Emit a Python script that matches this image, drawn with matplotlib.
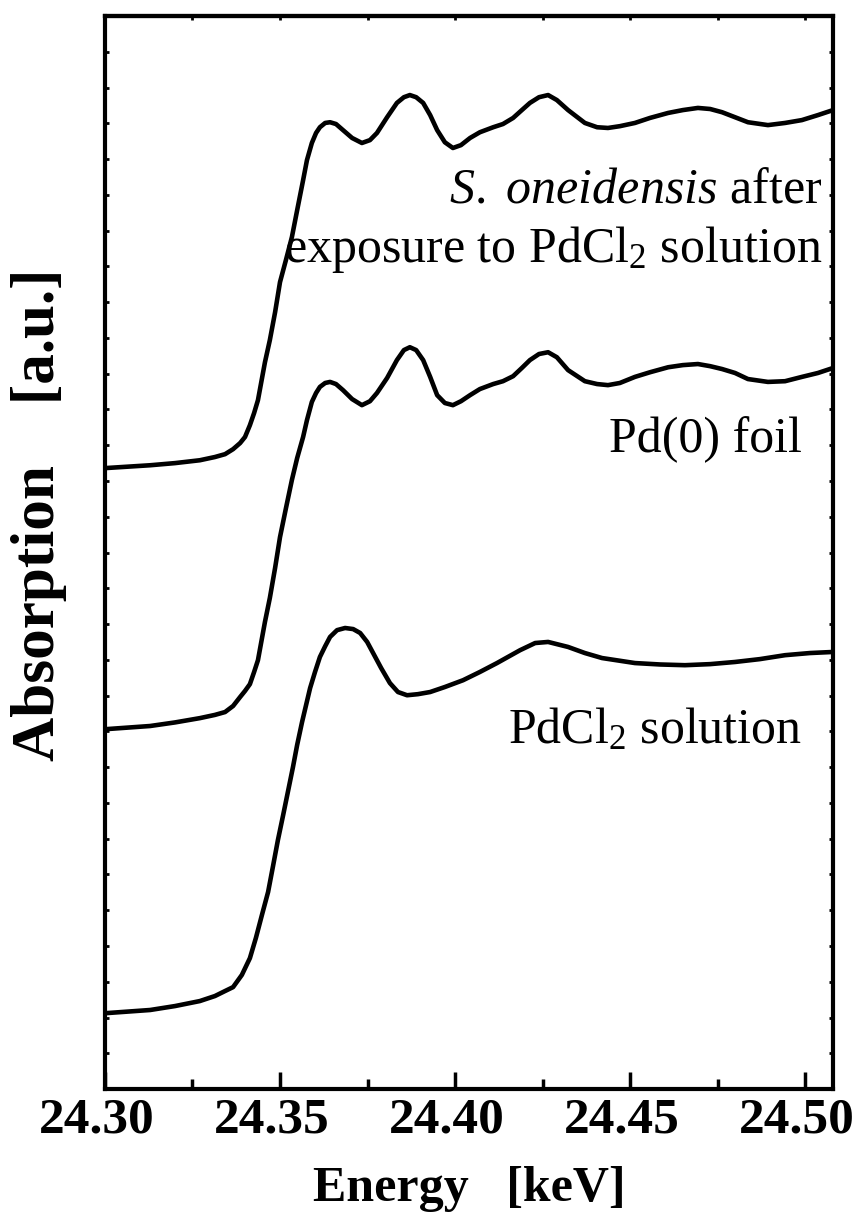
import numpy as np
import matplotlib
matplotlib.use("Agg")
import matplotlib.pyplot as plt
import matplotlib.transforms as mtransforms
from matplotlib.ticker import MultipleLocator, NullFormatter

plt.rcParams['font.family'] = ['Liberation Serif', 'DejaVu Serif']
plt.rcParams['mathtext.fontset'] = 'custom'
plt.rcParams['mathtext.rm'] = 'Liberation Serif'
plt.rcParams['mathtext.it'] = 'Liberation Serif:italic'
plt.rcParams['mathtext.bf'] = 'Liberation Serif:bold'

# energy grid (keV) shared by the S. oneidensis and Pd foil spectra
energy_pd = [24.3000, 24.3129, 24.3200, 24.3271, 24.3314, 24.3343, 24.3366, 24.3386,
             24.3400, 24.3414, 24.3426, 24.3437, 24.3457, 24.3471, 24.3486, 24.3500,
             24.3517, 24.3534, 24.3549, 24.3566, 24.3577, 24.3591, 24.3603, 24.3614,
             24.3629, 24.3643, 24.3660,
             24.3680, 24.3706, 24.3734, 24.3757, 24.3777, 24.3806, 24.3834, 24.3854,
             24.3871, 24.3889, 24.3909, 24.3929, 24.3949, 24.3971, 24.3994, 24.4017,
             24.4043, 24.4071, 24.4109, 24.4137, 24.4166, 24.4191, 24.4214, 24.4240,
             24.4266, 24.4291, 24.4323, 24.4371, 24.4406, 24.4437, 24.4471, 24.4514,
             24.4557, 24.4609, 24.4651, 24.4694, 24.4729, 24.4763, 24.4800, 24.4837,
             24.4894, 24.4943, 24.4991, 24.5037, 24.5080]

# S. oneidensis after exposure to PdCl2 (offset spectrum, a.u.)
abs_shewanella = [17.36, 17.44, 17.50, 17.58, 17.67, 17.75, 17.89, 18.06,
                  18.23, 18.56, 18.90, 19.26, 20.32, 20.94, 21.72, 22.56,
                  23.18, 23.82, 24.57, 25.41, 25.97, 26.45, 26.73, 26.89,
                  27.01, 27.03, 26.98,
                  26.81, 26.59, 26.45, 26.53, 26.73, 27.17, 27.57, 27.73,
                  27.79, 27.73, 27.57, 27.23, 26.81, 26.47, 26.31, 26.39,
                  26.59, 26.75, 26.89, 26.98, 27.15, 27.37, 27.57, 27.73,
                  27.79, 27.65, 27.37, 27.01, 26.89, 26.87, 26.92, 27.01,
                  27.15, 27.29, 27.37, 27.43, 27.40, 27.31, 27.17, 27.03,
                  26.95, 27.01, 27.09, 27.23, 27.37]

# Pd(0) foil
abs_foil = [10.06, 10.15, 10.25, 10.37, 10.46, 10.54, 10.71, 10.96,
            11.13, 11.32, 11.66, 11.99, 13.06, 13.73, 14.57, 15.43,
            16.24, 17.03, 17.64, 18.23, 18.70, 19.21, 19.46, 19.63,
            19.74, 19.77, 19.71,
            19.54, 19.29, 19.12, 19.23, 19.46, 19.88, 20.38, 20.66,
            20.74, 20.66, 20.38, 19.91, 19.40, 19.18, 19.12, 19.23,
            19.40, 19.57, 19.71, 19.79, 19.93, 20.16, 20.38, 20.55,
            20.60, 20.46, 20.10, 19.79, 19.71, 19.68, 19.74, 19.91,
            20.04, 20.18, 20.24, 20.27, 20.21, 20.13, 20.02, 19.85,
            19.77, 19.79, 19.91, 20.02, 20.16]

# PdCl2 solution
energy_cl = [24.3000, 24.3129, 24.3200, 24.3271, 24.3314, 24.3343, 24.3366, 24.3391,
             24.3414, 24.3431, 24.3449, 24.3466, 24.3480, 24.3494, 24.3509, 24.3523,
             24.3537, 24.3549, 24.3563, 24.3586, 24.3600, 24.3614, 24.3629, 24.3643,
             24.3663, 24.3686, 24.3709, 24.3729, 24.3749, 24.3766, 24.3789, 24.3814,
             24.3837, 24.3863, 24.3894, 24.3929, 24.3971, 24.4023, 24.4071, 24.4120,
             24.4186, 24.4229, 24.4266, 24.4323, 24.4371, 24.4420, 24.4514, 24.4586,
             24.4657, 24.4729, 24.4800, 24.4871, 24.4943, 24.5014, 24.5080]
abs_pdcl2 = [2.12, 2.21, 2.32, 2.46, 2.60, 2.74, 2.85, 3.19,
             3.66, 4.22, 4.89, 5.51, 6.23, 6.96, 7.66, 8.33,
             9.00, 9.62, 10.26, 11.21, 11.66, 12.08, 12.38, 12.64,
             12.83, 12.89, 12.86, 12.75, 12.50, 12.19, 11.77, 11.35,
             11.10, 11.01, 11.04, 11.10, 11.24, 11.43, 11.66, 11.91,
             12.27, 12.47, 12.50, 12.36, 12.19, 12.05, 11.91, 11.87,
             11.85, 11.88, 11.94, 12.02, 12.13, 12.19, 12.22]

xticks = [24.30, 24.35, 24.40, 24.45, 24.50]

fig = plt.figure(figsize=(8.55, 12.22), dpi=100)
ax = fig.add_axes([0.1228, 0.1088, 0.8515, 0.8781])

for e, a in [(energy_pd, abs_shewanella), (energy_pd, abs_foil), (energy_cl, abs_pdcl2)]:
    ax.plot(e, a, color='black', lw=3.3, solid_joinstyle='round', solid_capstyle='round')

ax.set_xlim(24.30, 24.508)
ax.set_ylim(0, 30)

for s in ax.spines.values():
    s.set_linewidth(3)

ax.set_xticks(xticks)
ax.set_xticklabels([f"{t:.2f}" for t in xticks], fontweight='bold', fontsize=37)
ax.xaxis.set_minor_locator(MultipleLocator(0.025))
ax.yaxis.set_major_locator(MultipleLocator(1))
ax.set_yticklabels([])
ax.tick_params(axis='x', which='major', direction='in', length=12, width=2.5, pad=6, top=False)
ax.tick_params(axis='x', which='minor', direction='in', length=7, width=2.5, top=False)
ax.tick_params(axis='y', which='major', direction='in', length=3, width=2, left=True, right=True)

# tiny ticks along the top edge
top = ax.secondary_xaxis('top')
top.xaxis.set_major_locator(MultipleLocator(0.025))
top.xaxis.set_major_formatter(NullFormatter())
top.tick_params(direction='in', length=3, width=2)
top.spines['top'].set_linewidth(3)

# nudge the energy labels a little to the left, as in the original
shift = mtransforms.ScaledTranslation(-8 / 100, 0, fig.dpi_scale_trans)
for tk in ax.xaxis.get_major_ticks():
    tk.label1.set_transform(tk.label1.get_transform() + shift)

ax.set_xlabel("Energy   [keV]", fontweight='bold', fontsize=36, labelpad=16)
ax.set_ylabel("Absorption    [a.u.]", fontweight='bold', fontsize=44)
ax.yaxis.set_label_coords(-0.052, 0.535)

fs = 36
ax.text(0.985, 0.8266, r"$S.\ oneidensis$ after", transform=ax.transAxes,
        ha='right', va='baseline', fontsize=fs)
ax.text(0.985, 0.7707, r"exposure to PdCl$_2$ solution", transform=ax.transAxes,
        ha='right', va='baseline', fontsize=fs)
ax.text(0.957, 0.5937, "Pd(0) foil", transform=ax.transAxes,
        ha='right', va='baseline', fontsize=fs)
ax.text(0.957, 0.3225, r"PdCl$_2$ solution", transform=ax.transAxes,
        ha='right', va='baseline', fontsize=fs)

fig.savefig("out.png", dpi=100)
